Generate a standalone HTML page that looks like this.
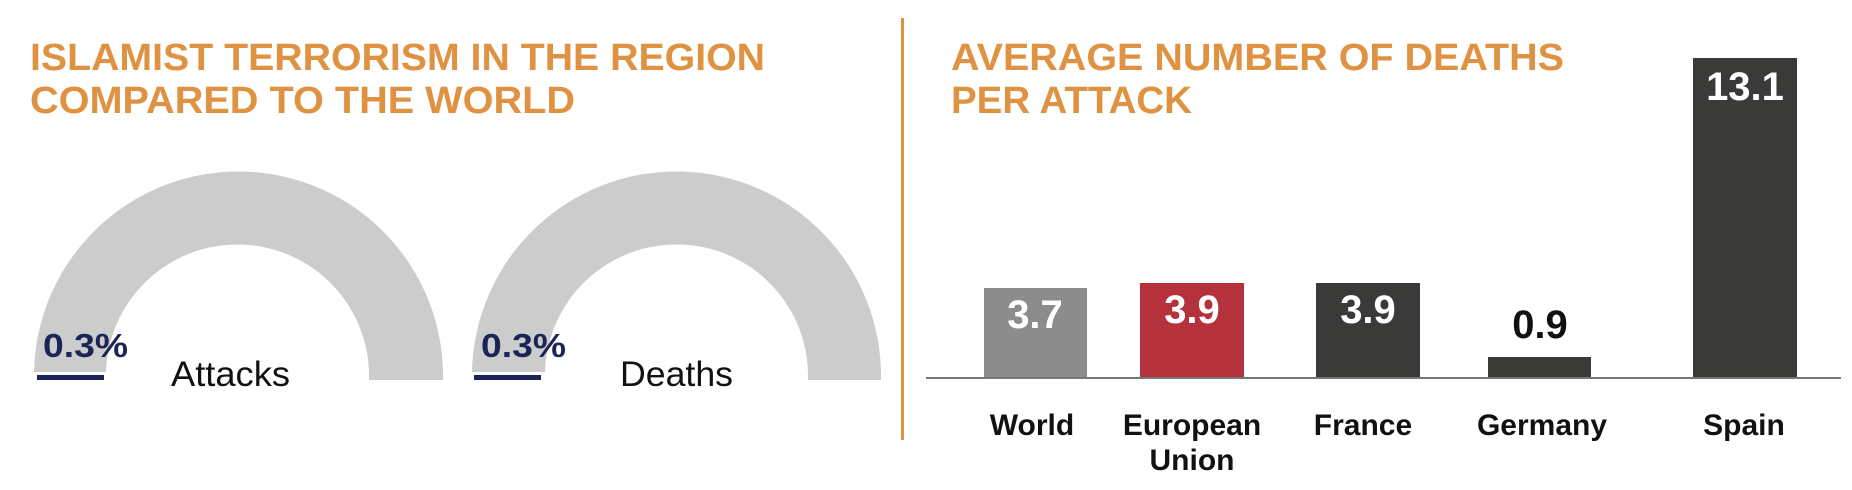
<!DOCTYPE html>
<html><head><meta charset="utf-8"><style>
html,body{margin:0;padding:0;background:#fff;}
svg{display:block;}
</style></head><body>
<svg width="1852" height="490" viewBox="0 0 1852 490" xmlns="http://www.w3.org/2000/svg">
<g font-family="Liberation Sans, sans-serif">
<!-- Left title -->
<text x="30" y="70" font-size="38" font-weight="bold" fill="#e09243" textLength="735" lengthAdjust="spacingAndGlyphs">ISLAMIST TERRORISM IN THE REGION</text>
<text x="30" y="113" font-size="38" font-weight="bold" fill="#e09243" textLength="545" lengthAdjust="spacingAndGlyphs">COMPARED TO THE WORLD</text>
<!-- divider -->
<rect x="901" y="18" width="3" height="422" fill="#e09243"/>
<!-- Gauge 1 -->
<path d="M34,372 A204,204 0 0 1 443,380 L369,380 A131,131 0 0 0 106,372 Z" fill="#cccccc"/>
<rect x="37" y="375" width="67" height="5" fill="#1a2456"/>
<text x="43" y="357" font-size="33" font-weight="bold" fill="#1a2456" textLength="85" lengthAdjust="spacingAndGlyphs">0.3%</text>
<text x="171" y="386" font-size="35" fill="#111" textLength="119" lengthAdjust="spacingAndGlyphs">Attacks</text>
<!-- Gauge 2 -->
<path d="M472,372 A204.5,204.5 0 0 1 881,380 L808,380 A131,131 0 0 0 545,372 Z" fill="#cccccc"/>
<rect x="474" y="375" width="67" height="5" fill="#1a2456"/>
<text x="481" y="357" font-size="33" font-weight="bold" fill="#1a2456" textLength="85" lengthAdjust="spacingAndGlyphs">0.3%</text>
<text x="620" y="386" font-size="35" fill="#111" textLength="113" lengthAdjust="spacingAndGlyphs">Deaths</text>
<!-- Right title -->
<text x="951" y="70" font-size="38" font-weight="bold" fill="#e09243" textLength="613" lengthAdjust="spacingAndGlyphs">AVERAGE NUMBER OF DEATHS</text>
<text x="951" y="113" font-size="38" font-weight="bold" fill="#e09243" textLength="241" lengthAdjust="spacingAndGlyphs">PER ATTACK</text>
<!-- Bars -->
<rect x="984" y="288" width="103" height="90" fill="#8c8c8c"/>
<rect x="1140" y="283" width="104" height="95" fill="#b5323d"/>
<rect x="1316" y="283" width="104" height="95" fill="#3a3a39"/>
<rect x="1488" y="357" width="103" height="21" fill="#3a3a39"/>
<rect x="1693" y="58" width="104" height="320" fill="#3a3a39"/>
<rect x="926" y="377" width="915" height="2" fill="#777"/>
<g font-size="40" font-weight="bold" text-anchor="middle">
<text x="1035" y="328" fill="#fff">3.7</text>
<text x="1192" y="323" fill="#fff">3.9</text>
<text x="1368" y="323" fill="#fff">3.9</text>
<text x="1540" y="338" fill="#111">0.9</text>
<text x="1745" y="100" fill="#fff">13.1</text>
</g>
<g font-size="30" font-weight="bold" text-anchor="middle" fill="#111">
<text x="1032" y="435">World</text>
<text x="1192" y="435">European</text>
<text x="1192" y="470">Union</text>
<text x="1363" y="435">France</text>
<text x="1542" y="435">Germany</text>
<text x="1744" y="435">Spain</text>
</g>
</g>
</svg>
</body></html>
